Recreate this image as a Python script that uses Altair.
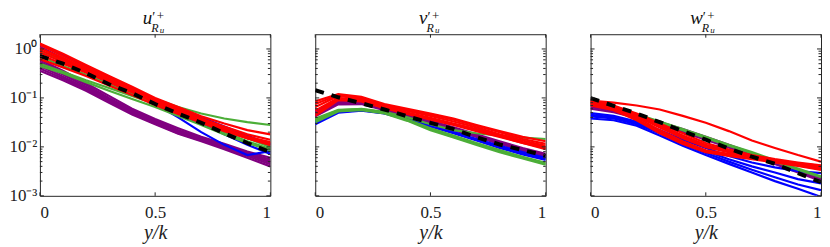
import altair as alt
import pandas as pd

x_vals = [0.0, 0.1, 0.2, 0.3, 0.4, 0.5, 0.6, 0.7, 0.8, 0.9, 1.0]

# ---------------- u' panel ----------------
u_blue = [
    [1.25, 0.75, 0.45, 0.27, 0.16, 0.095, 0.06, 0.04, 0.026, 0.017, 0.011],
    [1.10, 0.65, 0.38, 0.22, 0.13, 0.075, 0.040, 0.020, 0.011, 0.0068, 0.0082],
    [0.90, 0.55, 0.34, 0.20, 0.125, 0.075, 0.047, 0.030, 0.018, 0.011, 0.0072],
]
u_green = [
    [0.90, 0.58, 0.37, 0.23, 0.15, 0.095, 0.065, 0.048, 0.038, 0.032, 0.028],
    [0.50, 0.34, 0.23, 0.16, 0.11, 0.075, 0.050, 0.033, 0.022, 0.015, 0.010],
    [0.45, 0.32, 0.21, 0.14, 0.095, 0.065, 0.043, 0.028, 0.018, 0.012, 0.0085],
    [0.70, 0.45, 0.30, 0.19, 0.12, 0.077, 0.050, 0.032, 0.020, 0.013, 0.009],
]
u_red = [
    [1.30, 0.80, 0.47, 0.28, 0.17, 0.10, 0.065, 0.042, 0.030, 0.022, 0.018],
    [1.20, 0.72, 0.43, 0.26, 0.155, 0.095, 0.060, 0.038, 0.026, 0.018, 0.014],
    [1.05, 0.65, 0.40, 0.24, 0.145, 0.090, 0.057, 0.036, 0.024, 0.016, 0.012],
    [0.95, 0.60, 0.37, 0.23, 0.14, 0.085, 0.055, 0.035, 0.023, 0.015, 0.011],
    [0.85, 0.55, 0.35, 0.22, 0.135, 0.082, 0.052, 0.034, 0.023, 0.016, 0.0125],
    [0.75, 0.50, 0.33, 0.21, 0.13, 0.080, 0.050, 0.033, 0.022, 0.015, 0.011],
    [0.62, 0.42, 0.28, 0.18, 0.115, 0.072, 0.047, 0.031, 0.021, 0.015, 0.012],
]
u_purple = [
    [0.60, 0.36, 0.20, 0.11, 0.060, 0.037, 0.024, 0.016, 0.0115, 0.008, 0.006],
    [0.55, 0.33, 0.185, 0.10, 0.056, 0.035, 0.022, 0.015, 0.011, 0.0075, 0.0055],
    [0.50, 0.30, 0.17, 0.095, 0.053, 0.033, 0.021, 0.0145, 0.0105, 0.0072, 0.005],
    [0.45, 0.27, 0.16, 0.09, 0.050, 0.031, 0.020, 0.014, 0.010, 0.007, 0.0048],
    [0.40, 0.25, 0.15, 0.085, 0.048, 0.030, 0.019, 0.0135, 0.0095, 0.0065, 0.0044],
    [0.36, 0.23, 0.14, 0.08, 0.046, 0.029, 0.0185, 0.013, 0.009, 0.006, 0.004],
]
u_mean = [0.72, 0.50, 0.32, 0.19, 0.125, 0.075, 0.048, 0.031, 0.019, 0.012, 0.0078]

# ---------------- v' panel ----------------
v_blue = [
    [0.029, 0.050, 0.055, 0.048, 0.036, 0.026, 0.019, 0.0135, 0.0095, 0.0070, 0.0054],
    [0.031, 0.052, 0.056, 0.049, 0.037, 0.027, 0.0195, 0.014, 0.010, 0.0074, 0.0057],
    [0.033, 0.053, 0.057, 0.050, 0.038, 0.028, 0.020, 0.0145, 0.0105, 0.0078, 0.0060],
]
v_green = [
    [0.036, 0.056, 0.060, 0.052, 0.040, 0.029, 0.022, 0.019, 0.017, 0.0155, 0.0145],
    [0.034, 0.055, 0.058, 0.050, 0.035, 0.023, 0.016, 0.0115, 0.0082, 0.006, 0.0045],
    [0.032, 0.053, 0.056, 0.048, 0.034, 0.022, 0.0155, 0.011, 0.0078, 0.0058, 0.0043],
    [0.038, 0.057, 0.059, 0.051, 0.036, 0.024, 0.017, 0.012, 0.0086, 0.0063, 0.0047],
]
v_red = [
    [0.085, 0.120, 0.105, 0.075, 0.060, 0.048, 0.038, 0.028, 0.021, 0.016, 0.013],
    [0.075, 0.115, 0.100, 0.072, 0.057, 0.046, 0.036, 0.027, 0.020, 0.0145, 0.0115],
    [0.065, 0.110, 0.095, 0.070, 0.054, 0.043, 0.033, 0.025, 0.018, 0.0135, 0.0105],
    [0.055, 0.100, 0.090, 0.066, 0.050, 0.039, 0.030, 0.023, 0.017, 0.0125, 0.0098],
    [0.048, 0.095, 0.088, 0.064, 0.048, 0.037, 0.029, 0.022, 0.0165, 0.012, 0.0095],
    [0.043, 0.090, 0.085, 0.062, 0.047, 0.036, 0.028, 0.021, 0.016, 0.012, 0.009],
]
v_purple = [
    [0.055, 0.085, 0.083, 0.062, 0.046, 0.034, 0.025, 0.018, 0.013, 0.0095, 0.0072],
    [0.050, 0.080, 0.080, 0.060, 0.044, 0.032, 0.024, 0.017, 0.0125, 0.009, 0.0068],
    [0.046, 0.077, 0.077, 0.058, 0.042, 0.031, 0.023, 0.0165, 0.012, 0.0087, 0.0064],
    [0.042, 0.074, 0.075, 0.056, 0.041, 0.030, 0.022, 0.016, 0.0115, 0.0083, 0.006],
]
v_mean = [0.144, 0.103, 0.078, 0.058, 0.042, 0.031, 0.023, 0.0158, 0.0112, 0.0086, 0.0066]

# ---------------- w' panel ----------------
w_blue = [
    [0.049, 0.043, 0.033, 0.022, 0.014, 0.0095, 0.0065, 0.0048, 0.0038, 0.0032, 0.0029],
    [0.045, 0.040, 0.031, 0.020, 0.0125, 0.0082, 0.0056, 0.0040, 0.0030, 0.0022, 0.0018],
    [0.042, 0.038, 0.029, 0.019, 0.0115, 0.0075, 0.0050, 0.0034, 0.0024, 0.0017, 0.0013],
    [0.038, 0.035, 0.027, 0.017, 0.0105, 0.0068, 0.0045, 0.0030, 0.0020, 0.0014, 0.00095],
]
w_green = [
    [0.080, 0.064, 0.047, 0.033, 0.023, 0.016, 0.011, 0.0078, 0.0053, 0.0036, 0.0025],
    [0.072, 0.060, 0.045, 0.032, 0.022, 0.0152, 0.0105, 0.0074, 0.0050, 0.0034, 0.0024],
]
w_red = [
    [0.088, 0.080, 0.070, 0.058, 0.043, 0.031, 0.021, 0.0135, 0.0095, 0.0068, 0.0050],
    [0.080, 0.065, 0.040, 0.022, 0.013, 0.0085, 0.0072, 0.0062, 0.0053, 0.0045, 0.0038],
    [0.075, 0.060, 0.037, 0.020, 0.012, 0.0080, 0.0068, 0.0058, 0.0050, 0.0042, 0.0035],
    [0.070, 0.056, 0.035, 0.019, 0.0115, 0.0078, 0.0065, 0.0056, 0.0048, 0.0041, 0.0034],
    [0.085, 0.066, 0.045, 0.028, 0.017, 0.011, 0.0082, 0.0065, 0.0053, 0.0045, 0.0040],
    [0.090, 0.070, 0.048, 0.030, 0.019, 0.012, 0.0088, 0.0068, 0.0056, 0.0048, 0.0042],
    [0.078, 0.062, 0.042, 0.025, 0.015, 0.0098, 0.0078, 0.0063, 0.0052, 0.0044, 0.0038],
    [0.082, 0.064, 0.043, 0.027, 0.016, 0.0105, 0.0080, 0.0064, 0.0054, 0.0046, 0.0041],
]
w_purple = [
    [0.075, 0.060, 0.045, 0.032, 0.023, 0.016, 0.011, 0.0075, 0.0050, 0.0034, 0.0023],
    [0.070, 0.057, 0.043, 0.031, 0.022, 0.015, 0.0105, 0.0072, 0.0048, 0.0032, 0.0022],
    [0.065, 0.054, 0.041, 0.030, 0.021, 0.0145, 0.0100, 0.0069, 0.0046, 0.0031, 0.0021],
    [0.060, 0.051, 0.039, 0.029, 0.020, 0.0140, 0.0097, 0.0067, 0.0045, 0.0030, 0.0020],
]
w_mean = [0.099, 0.069, 0.048, 0.032, 0.021, 0.014, 0.0093, 0.0063, 0.0045, 0.0029, 0.0019]

# axis tick values / labels
x_ticks = [0, 0.5, 1]
y_major = [0.001, 0.01, 0.1, 1]
y_minor = [m * 10.0 ** e for e in (-3, -2, -1) for m in range(2, 10)]

FONT = "Liberation Serif"
COLORS = {"blue": "#0000ff", "green": "#4cae38", "red": "#ff0000", "purple": "#800080"}
DRAW_ORDER = ["purple", "blue", "green", "red"]
W, H = 231, 162
BOX = "#262626"

xs = alt.Scale(domain=[0, 1], nice=False, zero=False)
ys = alt.Scale(type="log", domain=[0.001, 2], nice=False)


def lines_df(lines):
    rows = []
    for i, vals in enumerate(lines):
        for x, v in zip(x_vals, vals):
            rows.append({"x": x, "v": v, "id": i})
    return pd.DataFrame(rows)


def panel(letter, groups, mean, show_y):
    xaxis = alt.Axis(values=x_ticks, format="~g", ticks=False, domain=False, grid=False,
                     labelFont=FONT, labelFontSize=17, labelColor="#222", labelPadding=9,
                     title="y/k", titleFont=FONT, titleFontStyle="italic",
                     titleFontWeight="normal", titleFontSize=20, titleColor="#222",
                     titlePadding=2)
    if show_y:
        yaxis = alt.Axis(values=y_major, ticks=False, domain=False, grid=False,
                         labelExpr="datum.value > 0.5 ? '10⁰' : datum.value > 0.05 ? '10⁻¹' : datum.value > 0.005 ? '10⁻²' : '10⁻³'",
                         labelFont=FONT, labelFontSize=17, labelColor="#222", labelPadding=3,
                         title=None)
    else:
        yaxis = None
    X = alt.X("x:Q", scale=xs, axis=xaxis)
    Y = alt.Y("v:Q", scale=ys, axis=yaxis)
    layers = []
    for name in DRAW_ORDER:
        layers.append(
            alt.Chart(lines_df(groups[name])).mark_line(
                color=COLORS[name], strokeWidth=2.2, clip=True
            ).encode(x=X, y=Y, detail="id:N")
        )
    mdf = pd.DataFrame({"x": x_vals, "v": mean})
    layers.append(
        alt.Chart(mdf).mark_line(color="black", strokeWidth=4, strokeDash=[9, 8], clip=True)
        .encode(x=X, y=Y)
    )
    # inward ticks
    tx = pd.DataFrame({"x": x_ticks})
    ymaj = pd.DataFrame({"v": y_major})
    ymin = pd.DataFrame({"v": y_minor})
    layers.append(alt.Chart(tx).mark_rule(color=BOX, strokeWidth=1).encode(
        x=X, y=alt.value(H), y2=alt.value(H - 3.5)))
    layers.append(alt.Chart(tx).mark_rule(color=BOX, strokeWidth=1).encode(
        x=X, y=alt.value(0), y2=alt.value(3.5)))
    for df, ln in ((ymaj, 4), (ymin, 2.5)):
        layers.append(alt.Chart(df).mark_rule(color=BOX, strokeWidth=1).encode(
            y=Y, x=alt.value(0), x2=alt.value(ln)))
        layers.append(alt.Chart(df).mark_rule(color=BOX, strokeWidth=1).encode(
            y=Y, x=alt.value(W), x2=alt.value(W - ln)))
    # title  letter'^+_{R_u}
    one = pd.DataFrame({"k": [0]})
    cx = W / 2

    def txt(t, x, y, size, italic=True, align="left"):
        return alt.Chart(one).mark_text(
            text=t, font=FONT, fontSize=size, fontStyle="italic" if italic else "normal",
            align=align, baseline="alphabetic", color="#111"
        ).encode(x=alt.value(x), y=alt.value(y))

    layers.append(txt(letter, cx - 3, -10, 19, align="right"))
    layers.append(txt("′", cx - 3, -12, 14, italic=False))
    layers.append(txt("+", cx + 1.5, -14.5, 13, italic=False))
    layers.append(txt("R", cx - 4, -2.5, 12))
    layers.append(txt("u", cx + 4.5, -1, 9))
    return alt.layer(*layers).properties(width=W, height=H)


p1 = panel("u", {"blue": u_blue, "green": u_green, "red": u_red, "purple": u_purple}, u_mean, True)
p2 = panel("v", {"blue": v_blue, "green": v_green, "red": v_red, "purple": v_purple}, v_mean, False)
p3 = panel("w", {"blue": w_blue, "green": w_green, "red": w_red, "purple": w_purple}, w_mean, False)

chart = alt.hconcat(p1, p2, p3, spacing=45, bounds="flush").properties(
    padding={"left": 0, "top": 0, "right": 0, "bottom": 0}
).configure_view(stroke=BOX, strokeWidth=1)

chart.save("out.html", embed_options={"renderer": "svg", "actions": False})
